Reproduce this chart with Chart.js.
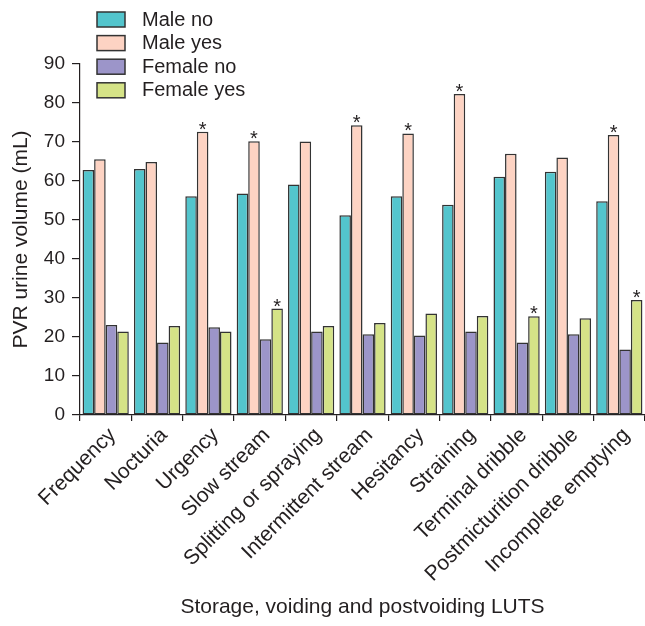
<!doctype html>
<html lang="en">
<head>
    <meta charset="utf-8" />
    <title>PVR urine volume by LUTS</title>
    <script src="https://cdn.jsdelivr.net/npm/chart.js@4.4.1/dist/chart.umd.min.js"></script>
    <style>
        html, body { margin: 0; padding: 0; background: #fff; }
        #wrap { width: 645px; height: 626px; }
    </style>
</head>
<body>
    <div id="wrap"><canvas id="pvrChart"></canvas></div>
    <script>
        // categories and values
        const categories = ['Frequency', 'Nocturia', 'Urgency', 'Slow stream', 'Splitting or spraying',
            'Intermittent stream', 'Hesitancy', 'Straining', 'Terminal dribble',
            'Postmicturition dribble', 'Incomplete emptying'];
        const maleNo = [62.8, 63.1, 56.1, 56.8, 59.1, 51.2, 56.1, 53.9, 61.1, 62.4, 54.8];
        const maleYes = [65.6, 64.9, 72.6, 70.2, 70.1, 74.3, 72.2, 82.3, 67.0, 66.0, 71.8];
        const femaleNo = [23.1, 18.6, 22.5, 19.4, 21.4, 20.7, 20.4, 21.4, 18.6, 20.7, 16.8];
        const femaleYes = [21.4, 22.8, 21.4, 27.3, 22.8, 23.6, 26.0, 25.4, 25.3, 24.8, 29.5];
        // which bars carry a significance star
        const starMaleYes = [0, 0, 1, 1, 0, 1, 1, 1, 0, 0, 1];
        const starFemaleYes = [0, 0, 0, 1, 0, 0, 0, 0, 1, 0, 1];
        const yTicks = [0, 10, 20, 30, 40, 50, 60, 70, 80, 90];

        const ink = '#231f20';
        const font = 'Liberation Sans, Arial, Helvetica, sans-serif';

        const series = [
            { label: 'Male no', data: maleNo, color: '#53c5cd', stars: null },
            { label: 'Male yes', data: maleYes, color: '#fdd3c3', stars: starMaleYes },
            { label: 'Female no', data: femaleNo, color: '#9c95c9', stars: null },
            { label: 'Female yes', data: femaleYes, color: '#d5e387', stars: starFemaleYes }
        ];

        // stars above significant bars
        const starPlugin = {
            id: 'stars',
            afterDatasetsDraw(chart) {
                const ctx = chart.ctx;
                ctx.save();
                ctx.fillStyle = ink;
                ctx.font = '20px ' + font;
                ctx.textAlign = 'center';
                ctx.textBaseline = 'alphabetic';
                series.forEach((s, di) => {
                    if (!s.stars) return;
                    const meta = chart.getDatasetMeta(di);
                    s.stars.forEach((flag, i) => {
                        if (!flag) return;
                        const bar = meta.data[i];
                        ctx.fillText('*', bar.x, bar.y + 4);
                    });
                });
                ctx.restore();
            }
        };

        // legend drawn top-left like the figure
        const legendPlugin = {
            id: 'boxLegend',
            afterDraw(chart) {
                const ctx = chart.ctx;
                ctx.save();
                ctx.font = '20px ' + font;
                ctx.textBaseline = 'middle';
                ctx.lineWidth = 1.5;
                chart.data.datasets.forEach((ds, i) => {
                    const y = 12 + i * 23.6;
                    ctx.fillStyle = ds.backgroundColor;
                    ctx.fillRect(97, y, 28, 15);
                    ctx.strokeStyle = '#333';
                    ctx.strokeRect(97, y, 28, 15);
                    ctx.fillStyle = ink;
                    ctx.fillText(ds.label, 142, y + 8);
                });
                ctx.restore();
            }
        };

        new Chart(document.getElementById('pvrChart'), {
            type: 'bar',
            data: {
                labels: categories,
                datasets: series.map(s => ({
                    label: s.label,
                    data: s.data,
                    backgroundColor: s.color,
                    borderColor: '#333333',
                    borderWidth: 1.5,
                    borderSkipped: false,
                    categoryPercentage: 0.9,
                    barPercentage: 1.0
                }))
            },
            options: {
                responsive: true,
                maintainAspectRatio: false,
                animation: false,
                layout: { padding: { top: 64, right: 0, left: 0, bottom: 0 } },
                plugins: {
                    legend: { display: false },
                    tooltip: { enabled: false }
                },
                scales: {
                    x: {
                        afterFit(scale) { scale.height = 211; },
                        grid: {
                            display: true,
                            drawOnChartArea: false,
                            drawTicks: true,
                            tickLength: 6,
                            color: ink,
                            lineWidth: 1.2
                        },
                        border: { display: true, color: ink, width: 1.2 },
                        ticks: {
                            minRotation: 45,
                            maxRotation: 45,
                            autoSkip: false,
                            color: ink,
                            padding: 2,
                            labelOffset: 7,
                            font: { family: font, size: 21 }
                        },
                        title: {
                            display: true,
                            text: 'Storage, voiding and postvoiding LUTS',
                            color: ink,
                            font: { family: font, size: 21 },
                            padding: { top: 0, bottom: 6 }
                        }
                    },
                    y: {
                        min: 0,
                        max: 90,
                        afterFit(scale) { scale.width = 80; },
                        afterBuildTicks(scale) { scale.ticks = yTicks.map(v => ({ value: v })); },
                        grid: {
                            display: true,
                            drawOnChartArea: false,
                            drawTicks: true,
                            tickLength: 8,
                            color: ink,
                            lineWidth: 1.2
                        },
                        border: { display: true, color: ink, width: 1.2 },
                        ticks: {
                            color: ink,
                            padding: 7,
                            font: { family: font, size: 19 }
                        },
                        title: {
                            display: true,
                            text: 'PVR urine volume (mL)',
                            color: ink,
                            font: { family: font, size: 21 },
                            padding: { top: 9, bottom: 0 }
                        }
                    }
                }
            },
            plugins: [starPlugin, legendPlugin]
        });
    </script>
</body>
</html>
